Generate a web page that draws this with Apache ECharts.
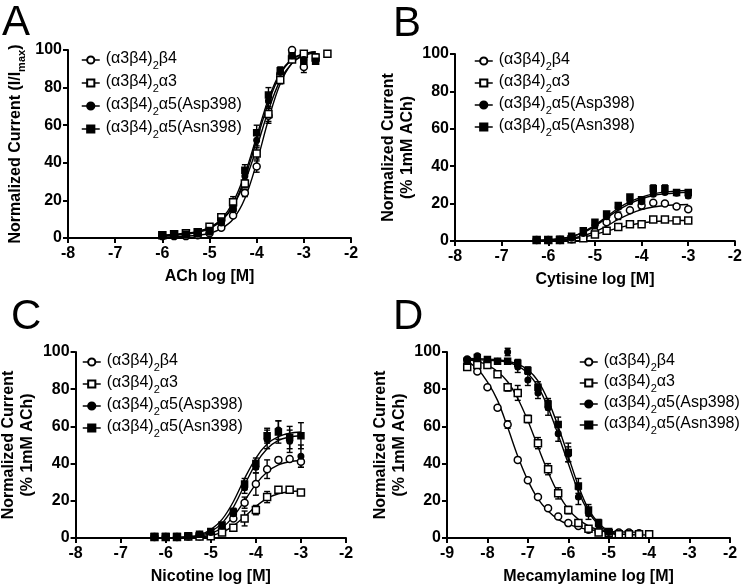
<!DOCTYPE html>
<html><head><meta charset="utf-8">
<script src="https://cdn.jsdelivr.net/npm/echarts@6/dist/echarts.min.js"></script>
<style>html,body{margin:0;padding:0;background:#fff}#c{width:745px;height:586px}</style>
</head><body><div id="c"></div>
<script>
// ---------------- DATA ----------------
const SERIES_KEYS = ['b4', 'a3', 'asp', 'asn'];
const SERIES_LABELS = {
  b4: '{n|(α3β4)}{s|2}{n|β4}',
  a3: '{n|(α3β4)}{s|2}{n|α3}',
  asp: '{n|(α3β4)}{s|2}{n|α5(Asp398)}',
  asn: '{n|(α3β4)}{s|2}{n|α5(Asn398)}'
};
const TICKS_Y = [0, 20, 40, 60, 80, 100];

// Panel A: ACh
const A_x    = [-6, -5.75, -5.5, -5.25, -5, -4.75, -4.5, -4.25, -4, -3.75, -3.5, -3.25, -3, -2.75, -2.5];
const A_b4   = [1, 1, 1, 1.5, 2.5, 5.5, 12, 24, 38, 65, 87, 100, 91, null, null];
const A_a3   = [1.5, 2, 2.5, 3, 6, 11, 19, 29, 45, 66, 84, 95, 98, 96, 98];
const A_asp  = [1, 1.2, 1.5, 2, 3, 8, 15, 33, 52, 73, 88, 97, 95, null, null];
const A_asn  = [1.5, 1.8, 2, 3, 4, 9, 16, 36, 56, 76, 89, 97, 94, 94, null];
const A_b4_err  = [0, 0, 0, 0, 0, 0, 1, 2, 3, 4, 1, 0, 3, 0, 0];
const A_a3_err  = [0, 0, 0, 0, 0, 1, 3, 2, 3, 4, 2, 0, 1, 2, 0];
const A_asp_err = [0, 0, 0, 0, 0, 1, 2, 3, 3, 4, 2, 1, 2, 0, 0];
const A_asn_err = [0, 0, 0, 0, 0, 1, 2, 3, 4, 4, 2, 1, 1, 1, 0];
const A_fit_b4  = [0.5, 0.7, 1, 1.5, 2.5, 5, 10, 21, 40, 63, 82, 93, 97.5, 99, null];
const A_fit_a3  = [1.5, 2, 2.5, 3.5, 5.5, 9.5, 17, 30, 48, 68, 84, 93, 97, 98.5, null];
const A_fit_asp = [1, 1.5, 2, 3, 5, 9, 17, 32, 52, 72, 87, 95, 98, 99, null];
const A_fit_asn = [1.2, 1.6, 2.2, 3.2, 5.5, 10, 19, 34, 54, 74, 88, 95, 98, 99, null];

// Panel B: Cytisine
const B_x    = [-6.25, -6, -5.75, -5.5, -5.25, -5, -4.75, -4.5, -4.25, -4, -3.75, -3.5, -3.25, -3];
const B_b4   = [0.5, 0.5, 0.5, 1, 2, 5, 10, 13.5, 16.5, 19, 20.5, 20, 18.5, 17];
const B_a3   = [0.5, 0.5, 0.5, 1, 1.5, 3.5, 5.5, 7.5, 9, 9, 11.5, 11.5, 11, 11];
const B_asp  = [0.5, 0.5, 0.8, 1.5, 4, 8, 13, 18, 21, 21, 25, 26, 25.5, 24];
const B_asn  = [0.5, 0.5, 1, 2.5, 5.5, 10, 14.5, 19, 23.5, 22, 28, 28, 26, 26];
const B_b4_err  = [0, 0, 0, 0, 0, 0, 1, 2, 1, 2, 1, 1, 1, 1];
const B_a3_err  = [0, 0, 0, 0, 0, 0, 0, 0, 1, 1, 1, 0, 1, 1];
const B_asp_err = [0, 0, 0, 0, 0, 1, 1, 1, 1, 2, 1, 1, 1, 1];
const B_asn_err = [0, 0, 0, 0, 0, 1, 1, 1, 1, 1, 2, 2, 1, 1];
const B_fit_b4  = [0.2, 0.4, 0.8, 1.5, 2.8, 5, 8, 11.5, 14.5, 16.8, 18.2, 19, 19.3, 19.5];
const B_fit_a3  = [0.2, 0.3, 0.6, 1.1, 2, 3.5, 5.2, 7, 8.5, 9.6, 10.3, 10.7, 10.9, 11];
const B_fit_asp = [0.3, 0.6, 1.2, 2.4, 4.5, 8, 12.3, 16.5, 20, 22.6, 24.3, 25.2, 25.7, 26];
const B_fit_asn = [0.3, 0.6, 1.2, 2.5, 4.8, 8.5, 13, 17.5, 21, 23.5, 25.2, 26.2, 26.7, 27];

// Panel C: Nicotine
const C_x    = [-6.25, -6, -5.75, -5.5, -5.25, -5, -4.75, -4.5, -4.25, -4, -3.75, -3.5, -3.25, -3];
const C_b4   = [0.5, 0.5, 0.5, 0.8, 1, 1.5, 4, 10.5, 19, 29, 37, 42, 42.5, 41];
const C_a3   = [0.5, 0.5, 0.5, 0.8, 0.8, 1, 3, 5.5, 10.5, 15, 22, 26, 26, 24.5];
const C_asp  = [0.8, 0.8, 0.8, 1, 2, 3, 6.5, 13, 27, 38, 53, 58, 52, 44];
const C_asn  = [0.8, 0.8, 0.8, 1.2, 2, 3.5, 7, 14, 29, 40, 55, 57, 54, 55];
const C_b4_err  = [0, 0, 0, 0, 0, 0, 0, 1, 3, 6, 5, 0, 0, 3];
const C_a3_err  = [0, 0, 0, 0, 0, 0, 0, 1.5, 4, 2.5, 3, 0, 0, 1];
const C_asp_err = [0, 0, 0, 0, 0, 0, 1, 2, 3, 3, 5, 5, 6, 6];
const C_asn_err = [0, 0, 0, 0, 0, 0, 1, 2, 3, 3, 4, 6, 6, 7];
const C_fit_b4  = [0, 0.1, 0.2, 0.4, 1, 2.4, 5.5, 11.5, 20, 29, 35.5, 39.3, 41, 41.7];
const C_fit_a3  = [0, 0, 0.1, 0.2, 0.5, 1.3, 3, 6.5, 11.5, 17, 21.3, 23.8, 24.9, 25.3];
const C_fit_asp = [0, 0.1, 0.2, 0.5, 1.3, 3.5, 8, 16.5, 28.5, 40, 48, 52.5, 54.3, 55];
const C_fit_asn = [0, 0.1, 0.3, 0.7, 1.7, 4.5, 10, 19.5, 32, 43, 50.5, 54.5, 56.3, 57];

// Panel D: Mecamylamine
const D_x    = [-8.5, -8.25, -8, -7.75, -7.5, -7.25, -7, -6.75, -6.5, -6.25, -6, -5.75, -5.5, -5.25, -5, -4.75, -4.5, -4.25, -4];
const D_b4   = [96, 89.5, 81, 70, 61, 42, 31, 22, 16, 11.5, 8, 6.5, 4.5, 3.5, 3, 3, 3, 2.5, null];
const D_a3   = [92, 93, 93, 88, 81, 78, 64, 51, 37, 24, 15, 8, 5, 3, 2.5, 2, 2, 2, 2];
const D_asp  = [96, 98, 96, 95, 100, 92, 85, 78, 70, 56, 45, 22, 13, 7, 3, null, null, null, null];
const D_asn  = [95, 97, 96, 95, 95, 94, 90, 81, 72, 61, 46, 28, 15, 8, 3.5, null, null, null, null];
const D_b4_err  = [0, 0, 0, 1, 2, 0, 1, 1, 1, 0, 0, 0, 0, 0, 0, 0, 0, 0, 0];
const D_a3_err  = [1, 0, 0, 1, 2, 4, 2, 3, 3, 3, 2, 1, 0, 0, 0, 0, 0, 0, 0];
const D_asp_err = [0, 0, 0, 0, 2, 3, 3, 3, 4, 4, 4, 4, 3, 2, 0, 0, 0, 0, 0];
const D_asn_err = [0, 0, 0, 0, 1, 2, 2, 3, 3, 4, 5, 4, 3, 2, 0, 0, 0, 0, 0];
const D_fit_b4  = [95, 91, 84, 74, 59.5, 44, 31, 21, 14.5, 10, 7.3, 5.7, 4.6, 4, 3.6, 3.3, 3.2, 3.1, null];
const D_fit_a3  = [96, 95, 93, 89.5, 84, 75, 63, 49, 35.5, 24, 15.5, 10, 6.5, 4.3, 3, 2.3, 1.9, 1.7, 1.6];
const D_fit_asp = [96, 95.8, 95.6, 95.2, 94.5, 92.5, 88.5, 81.5, 70, 55.5, 40, 25, 14, 7, 3.2, 1.5, null, null, null];
const D_fit_asn = [96.5, 96.4, 96.2, 95.8, 95, 93.5, 90.5, 84.5, 74, 60, 44, 28, 15.5, 8, 3.8, 1.8, null, null, null];

// ---------------- LAYOUT / STYLE ----------------
const FONT = '"Liberation Sans", Arial, Helvetica, sans-serif';
const SYM = {
  b4:  {symbol: 'circle', size: 7,   fill: '#fff'},
  a3:  {symbol: 'rect',   size: 7,   fill: '#fff'},
  asp: {symbol: 'circle', size: 5.5, fill: '#000'},
  asn: {symbol: 'rect',   size: 6,   fill: '#000'}
};
const YNAME_ONE = '{b|Normalized Current (I/I}{m|max}{b|)}';
const YNAME_TWO = '{b|Normalized Current}\n{b|(% 1mM ACh)}';

const PANELS = [
  {letter: 'A', lx: 2, ly: 2, xs: A_x, xMin: -8, xMax: -2, xName: 'ACh log [M]', yName: YNAME_ONE, yGap: 41,
   grid: {left: 68, top: 50, width: 283, height: 188}, legend: {left: 76, top: 46, gap: 3},
   pts: {b4: A_b4, a3: A_a3, asp: A_asp, asn: A_asn},
   err: {b4: A_b4_err, a3: A_a3_err, asp: A_asp_err, asn: A_asn_err},
   fit: {b4: A_fit_b4, a3: A_fit_a3, asp: A_fit_asp, asn: A_fit_asn}},
  {letter: 'B', lx: 393, ly: 3, xs: B_x, xMin: -8, xMax: -2, xName: 'Cytisine log [M]', yName: YNAME_TWO, yGap: 36,
   grid: {left: 455, top: 54, width: 284, height: 187}, legend: {left: 469, top: 47, gap: 2},
   pts: {b4: B_b4, a3: B_a3, asp: B_asp, asn: B_asn},
   err: {b4: B_b4_err, a3: B_a3_err, asp: B_asp_err, asn: B_asn_err},
   fit: {b4: B_fit_b4, a3: B_fit_a3, asp: B_fit_asp, asn: B_fit_asn}},
  {letter: 'C', lx: 11, ly: 296, xs: C_x, xMin: -8, xMax: -2, xName: 'Nicotine log [M]', yName: YNAME_TWO, yGap: 23,
   grid: {left: 63, top: 352, width: 283, height: 188}, legend: {left: 77, top: 348, gap: 2},
   pts: {b4: C_b4, a3: C_a3, asp: C_asp, asn: C_asn},
   err: {b4: C_b4_err, a3: C_a3_err, asp: C_asp_err, asn: C_asn_err},
   fit: {b4: C_fit_b4, a3: C_fit_a3, asp: C_fit_asp, asn: C_fit_asn}},
  {letter: 'D', lx: 393, ly: 296, xs: D_x, xMin: -9, xMax: -2, xName: 'Mecamylamine log [M]', yName: YNAME_TWO, yGap: 30,
   grid: {left: 447, top: 352, width: 283, height: 188}, legend: {left: 574, top: 348, gap: 1},
   pts: {b4: D_b4, a3: D_a3, asp: D_asp, asn: D_asn},
   err: {b4: D_b4_err, a3: D_a3_err, asp: D_asp_err, asn: D_asn_err},
   fit: {b4: D_fit_b4, a3: D_fit_a3, asp: D_fit_asp, asn: D_fit_asn}}
];

// ---------------- BUILD ----------------
function pairs(xs, ys) {
  return xs.map((x, i) => [x, ys[i] != null ? ys[i] : null]);
}
function errTriples(xs, ys, es) {
  const out = [];
  xs.forEach((x, i) => { if (ys[i] != null && es[i] > 0) out.push([x, ys[i] - es[i], ys[i] + es[i]]); });
  return out;
}
function errRender(params, api) {
  const x = api.value(0), lo = api.value(1), hi = api.value(2);
  const p1 = api.coord([x, hi]), p2 = api.coord([x, lo]);
  const w = 3;
  const style = {stroke: '#000', lineWidth: 1.4, fill: null};
  return {type: 'group', children: [
    {type: 'line', shape: {x1: p1[0], y1: p1[1], x2: p2[0], y2: p2[1]}, style},
    {type: 'line', shape: {x1: p1[0] - w, y1: p1[1], x2: p1[0] + w, y2: p1[1]}, style},
    {type: 'line', shape: {x1: p2[0] - w, y1: p2[1], x2: p2[0] + w, y2: p2[1]}, style}
  ]};
}

const axisCommon = {
  axisLine: {show: true, lineStyle: {color: '#000', width: 2}},
  axisTick: {show: true, length: 5, lineStyle: {color: '#000', width: 2}},
  splitLine: {show: false},
  nameTextStyle: {fontFamily: FONT, fontWeight: 'bold', fontSize: 16, color: '#000'}
};

const grids = [], xAxes = [], yAxes = [], series = [], legends = [], graphics = [];
PANELS.forEach((p, pi) => {
  grids.push(Object.assign({containLabel: false}, p.grid));
  xAxes.push(Object.assign({}, axisCommon, {
    type: 'value', gridIndex: pi, min: p.xMin, max: p.xMax, interval: 1,
    name: p.xName, nameLocation: 'middle', nameGap: 31,
    axisLabel: {fontFamily: FONT, fontWeight: 'bold', fontSize: 16, color: '#000', margin: 8}
  }));
  yAxes.push(Object.assign({}, axisCommon, {
    type: 'value', gridIndex: pi, min: 0, max: 100, interval: 20,
    name: p.yName, nameLocation: 'middle', nameGap: p.yGap, nameRotate: 90,
    nameTextStyle: {fontFamily: FONT, fontWeight: 'bold', fontSize: 16, color: '#000', lineHeight: 19,
      rich: {b: {fontFamily: FONT, fontWeight: 'bold', fontSize: 16, color: '#000', lineHeight: 19, verticalAlign: 'top'},
             m: {fontFamily: FONT, fontWeight: 'bold', fontSize: 11, color: '#000', lineHeight: 11, verticalAlign: 'top', padding: [8, 0, 0, 0]}}},
    axisLabel: {fontFamily: FONT, fontWeight: 'bold', fontSize: 16, color: '#000', margin: 6,
      formatter: v => (TICKS_Y.indexOf(v) >= 0 ? String(v) : '')}
  }));
  SERIES_KEYS.forEach(k => {
    series.push({
      type: 'line', name: 'fit_' + k, xAxisIndex: pi, yAxisIndex: pi,
      data: pairs(p.xs, p.fit[k]), smooth: 0.35, showSymbol: false, symbol: 'none',
      lineStyle: {color: '#000', width: 1.4}, z: 2, silent: true, animation: false
    });
  });
  SERIES_KEYS.forEach(k => {
    series.push({
      type: 'custom', name: 'err_' + k, xAxisIndex: pi, yAxisIndex: pi,
      data: errTriples(p.xs, p.pts[k], p.err[k]), renderItem: errRender,
      encode: {x: 0, y: [1, 2]}, z: 3, silent: true, animation: false
    });
  });
  SERIES_KEYS.forEach(k => {
    const s = SYM[k];
    series.push({
      type: 'line', name: k, xAxisIndex: pi, yAxisIndex: pi,
      data: pairs(p.xs, p.pts[k]), symbol: s.symbol, symbolSize: s.size, showSymbol: true,
      lineStyle: {opacity: 0, width: 0},
      itemStyle: {color: s.fill, borderColor: '#000', borderWidth: 1.5},
      z: 4, silent: true, animation: false
    });
  });
  legends.push({
    orient: 'vertical', left: p.legend.left, top: p.legend.top, itemGap: p.legend.gap,
    itemWidth: 18, itemHeight: 9, selectedMode: false, data: SERIES_KEYS,
    formatter: k => SERIES_LABELS[k],
    lineStyle: {color: '#000', width: 1.5, opacity: 1},
    textStyle: {fontFamily: FONT, fontSize: 16, color: '#000', padding: [0, 0, 0, 1],
      rich: {n: {fontFamily: FONT, fontSize: 16, color: '#000', lineHeight: 18, verticalAlign: 'top'},
             s: {fontFamily: FONT, fontSize: 11, color: '#000', lineHeight: 11, verticalAlign: 'top', padding: [9, 0, 0, 0]}}}
  });
  graphics.push({type: 'text', left: p.lx, top: p.ly,
    style: {text: p.letter, font: '42px ' + FONT, fill: '#000'}});
});

const chart = echarts.init(document.getElementById('c'), null, {renderer: 'canvas'});
chart.setOption({
  backgroundColor: '#fff', animation: false,
  grid: grids, xAxis: xAxes, yAxis: yAxes, series: series, legend: legends, graphic: graphics
});
</script>
</body></html>
